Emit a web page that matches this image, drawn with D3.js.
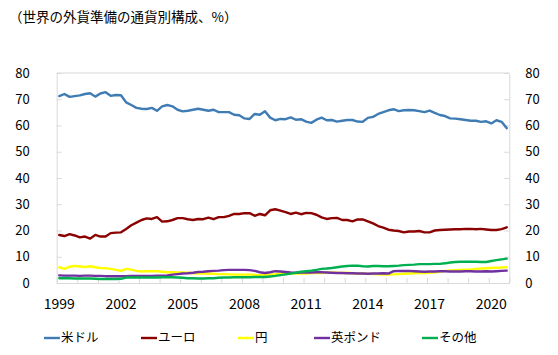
<!DOCTYPE html>
<html><head><meta charset="utf-8">
<script src="https://cdn.jsdelivr.net/npm/d3@7"></script>
<style>body{margin:0;background:#fff}svg{display:block}</style>
</head><body>
<script>
const title = "（世界の外貨準備の通貨別構成、%）";
const quarters = [];
for (let y = 1999; y <= 2020; y++) for (let q = 1; q <= 4; q++) quarters.push(y + "Q" + q);
const xLabelYears = ["1999","2002","2005","2008","2011","2014","2017","2020"];
const yTicks = [0,10,20,30,40,50,60,70,80];
const seriesNames = ["米ドル","ユーロ","円","英ポンド","その他"];

const usd = [71.2,72.0,70.9,71.2,71.5,72.0,72.3,71.0,72.2,72.7,
  71.3,71.6,71.5,68.8,67.8,66.7,66.4,66.3,66.7,65.6,
  67.3,67.8,67.3,66.0,65.4,65.6,66.0,66.4,66.0,65.6,
  66.0,65.1,65.1,65.1,64.1,63.9,62.7,62.5,64.4,64.1,
  65.4,63.0,62.0,62.5,62.4,63.1,62.2,62.4,61.5,61.0,
  62.2,63.0,62.0,62.1,61.5,61.8,62.1,62.1,61.5,61.4,
  62.9,63.3,64.4,65.1,65.8,66.2,65.5,65.8,65.9,65.8,
  65.5,65.1,65.7,64.8,64.0,63.6,62.7,62.6,62.4,62.1,
  61.8,61.8,61.4,61.6,60.8,62.0,61.4,59.0];
const eur = [18.3,17.9,18.6,18.1,17.4,17.7,16.9,18.3,17.7,17.7,
  19.0,19.2,19.3,20.6,22.0,23.0,24.0,24.6,24.4,25.1,
  23.4,23.5,24.0,24.7,24.7,24.3,24.0,24.4,24.3,24.9,
  24.3,25.1,25.1,25.6,26.3,26.3,26.6,26.6,25.6,26.3,
  25.8,27.7,28.1,27.6,27.0,26.3,26.8,26.2,26.7,26.6,
  26.0,25.0,24.4,24.7,24.8,24.0,24.0,23.5,24.2,24.2,
  23.5,22.7,21.7,21.1,20.3,20.0,19.8,19.3,19.6,19.6,
  19.8,19.3,19.3,20.0,20.2,20.3,20.4,20.5,20.5,20.6,
  20.6,20.5,20.6,20.4,20.2,20.2,20.5,21.2];
const jpy = [6.0,5.4,6.2,6.5,6.3,6.1,6.4,6.0,5.7,5.6,
  5.4,5.0,4.6,5.4,5.1,4.6,4.4,4.5,4.5,4.5,
  4.3,4.1,4.1,4.0,4.0,3.9,3.7,3.6,3.6,3.5,
  3.5,3.4,3.4,3.3,3.2,3.2,3.2,3.3,3.1,3.0,
  3.0,3.3,3.4,3.6,3.7,3.7,3.6,3.7,3.6,3.8,
  3.9,3.8,4.0,4.0,3.9,3.8,3.9,3.7,3.6,3.6,
  3.5,3.4,3.3,3.2,3.2,3.3,3.4,3.5,3.6,3.7,
  3.8,3.8,3.9,4.1,4.3,4.6,4.8,4.9,5.0,5.1,
  5.2,5.4,5.5,5.6,5.7,5.8,5.9,6.0];
const gbp = [2.9,2.8,2.8,2.8,2.7,2.8,2.8,2.7,2.7,2.6,
  2.6,2.6,2.6,2.6,2.7,2.7,2.7,2.7,2.7,2.8,
  2.8,2.9,3.2,3.4,3.6,3.7,3.9,4.2,4.3,4.5,
  4.6,4.7,4.9,5.0,5.0,5.0,5.0,4.9,4.6,4.1,
  3.8,4.1,4.5,4.4,4.2,4.0,3.9,4.0,4.0,4.0,
  4.1,4.1,4.0,3.9,3.8,3.8,3.7,3.7,3.6,3.6,
  3.5,3.6,3.6,3.7,3.6,4.5,4.6,4.6,4.6,4.5,
  4.4,4.3,4.4,4.4,4.5,4.5,4.4,4.4,4.4,4.5,
  4.5,4.4,4.4,4.5,4.4,4.5,4.6,4.7];
const other = [1.8,1.9,1.8,1.7,1.7,1.7,1.7,1.6,1.5,1.5,
  1.5,1.5,1.6,2.1,2.1,2.1,2.1,2.1,2.1,2.1,
  2.2,2.2,2.2,2.1,2.0,1.8,1.8,1.7,1.7,1.8,
  1.8,2.0,2.1,2.1,2.2,2.2,2.2,2.2,2.3,2.3,
  2.3,2.5,2.7,3.0,3.3,3.6,3.9,4.3,4.5,4.7,
  5.0,5.4,5.5,5.7,6.0,6.3,6.5,6.6,6.6,6.4,
  6.3,6.5,6.5,6.4,6.4,6.5,6.6,6.8,6.9,7.0,
  7.2,7.2,7.2,7.3,7.3,7.5,7.8,8.0,8.1,8.1,
  8.1,8.1,8.0,8.0,8.4,8.7,9.0,9.3];

const seriesValues = [usd, eur, jpy, gbp, other];
const colors = ["#3f7cb4","#8b0000","#ffff00","#7030a0","#00b050"];
const legendX = [44, 141, 238, 314, 422];

const W = 558, H = 355;
const L = 56.7, R = 509.3, T = 73, B = 283;
const font = "'Noto Sans CJK JP', 'Noto Sans', sans-serif";
const axisColor = "#d9d9d9";

const svg = d3.select("body").append("svg").attr("width", W).attr("height", H)
  .style("font-family", font);

svg.append("text").attr("x", 9).attr("y", 22).attr("font-size", 13.5)
  .attr("fill", "#000").text(title);

const x = d3.scaleBand().domain(quarters).range([L, R]).padding(0);
const xi = d3.scaleLinear().domain([0, quarters.length]).range([L, R]);
const y = d3.scaleLinear().domain([0, 80]).range([B, T]);

// frame top
svg.append("line").attr("x1", L).attr("x2", R).attr("y1", T).attr("y2", T)
  .attr("stroke", axisColor);

function styleAxis(g) {
  g.selectAll("path.domain").attr("stroke", axisColor);
  g.selectAll(".tick line").attr("stroke", axisColor);
  g.selectAll(".tick text").attr("fill", "#000").style("font-family", font);
}

const gl = svg.append("g").attr("transform", `translate(${L},0)`)
  .call(d3.axisLeft(y).tickValues(yTicks).tickSizeInner(-5).tickSizeOuter(0).tickPadding(27))
  .call(styleAxis);
gl.selectAll(".tick text").attr("font-size", 13);

const gr = svg.append("g").attr("transform", `translate(${R},0)`)
  .call(d3.axisRight(y).tickValues(yTicks).tickSizeInner(-5).tickSizeOuter(0).tickPadding(16))
  .call(styleAxis);
gr.selectAll(".tick text").attr("font-size", 13);

svg.append("g").attr("transform", `translate(0,${B})`)
  .call(d3.axisBottom(xi).tickValues(d3.range(0, quarters.length + 1, 4)).tickSizeInner(-5).tickSizeOuter(0).tickFormat(""))
  .call(styleAxis);

const gb = svg.append("g").attr("transform", `translate(0,${B})`)
  .call(d3.axisBottom(x).tickValues(xLabelYears.map(d => d + "Q1")).tickSize(0).tickPadding(16.5).tickFormat(d => d.slice(0, 4)))
  .call(styleAxis);
gb.select("path.domain").remove();
gb.selectAll(".tick text").attr("font-size", 14);

const line = d3.line()
  .x((d, i) => x(quarters[i]) + x.bandwidth() / 2)
  .y(d => y(d));

seriesValues.forEach((vals, k) => {
  svg.append("path").datum(vals).attr("d", line)
    .attr("fill", "none").attr("stroke", colors[k]).attr("stroke-width", 2.4)
    .attr("stroke-linejoin", "round").attr("stroke-linecap", "round");
});

const lg = svg.append("g");
seriesNames.forEach((name, k) => {
  lg.append("line").attr("x1", legendX[k]).attr("x2", legendX[k] + 16)
    .attr("y1", 338).attr("y2", 338).attr("stroke", colors[k]).attr("stroke-width", 2.4);
  lg.append("text").attr("x", legendX[k] + 17).attr("y", 338).attr("dy", "0.35em")
    .attr("font-size", 12.5).attr("fill", "#000").text(name);
});
</script>
</body></html>
